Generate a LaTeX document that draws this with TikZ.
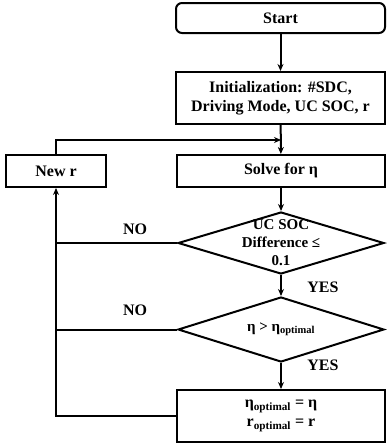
\documentclass[tikz,border=0pt]{standalone}
\usepackage{fontspec}
\setmainfont{Liberation Serif}
\usetikzlibrary{shapes.geometric,arrows.meta}

\begin{document}
\begin{tikzpicture}[x=1pt,y=-1pt,line width=2pt,>={Stealth[length=7pt,width=6pt]},
    box/.style={draw,rectangle,inner sep=0pt,align=center,font=\bfseries\fontsize{16}{19}\selectfont},
    decide/.style={draw,diamond,inner sep=0pt,minimum width=206pt,
      label={[align=center,font=\bfseries\fontsize{15}{18}\selectfont]center:#1}},
    lbl/.style={font=\bfseries\fontsize{16}{19}\selectfont}]
      \useasboundingbox (0,0) rectangle (386,447);
      % Main column
      \node[box,rounded corners=6pt,minimum width=209pt,minimum height=30pt] (start) at (280.5,18) {Start};
      \node[box,minimum width=209pt,minimum height=52pt] (init) at (280.5,98) {Initialization: \#SDC,\\Driving Mode, UC SOC, r};
      \node[box,minimum width=208pt,minimum height=32pt] (solve) at (281,171) {Solve for η};
      \node[decide={UC SOC\\Difference ≤\\0.1},minimum height=62pt] (diff) at (281,243) {};
      \node[decide={η > η\textsubscript{optimal}},minimum height=65pt] (eta) at (281,329.5) {};
      \node[box,minimum width=208pt,minimum height=52pt] (store) at (281,416) {η\textsubscript{optimal} = η\\r\textsubscript{optimal} = r};
      % Side box
      \node[box,minimum width=100pt,minimum height=32pt] (newr) at (56,171) {New r};
      \coordinate (join) at (281,140);
      % Arrows
      \draw[->] (start) -- (init);
      \draw[->] (init) -- (solve);
      \draw[->] (solve) -- (diff);
      \draw[->] (diff) -- (eta);
      \draw[->] (eta) -- (store);
      \draw[->] (newr.north) |- (join);
      \draw[->] (store.west) -| (newr.south);
      \draw (diff.west) -- (diff.west -| newr.south);
      \draw (eta.west) -- (eta.west -| newr.south);
      % Labels
      \node[lbl] (no1) at (135,229) {NO};
      \node[lbl] (no2) at (135,310) {NO};
      \node[lbl] (yes1) at (323,287) {YES};
      \node[lbl] (yes2) at (323,365) {YES};
    \end{tikzpicture}
\end{document}
